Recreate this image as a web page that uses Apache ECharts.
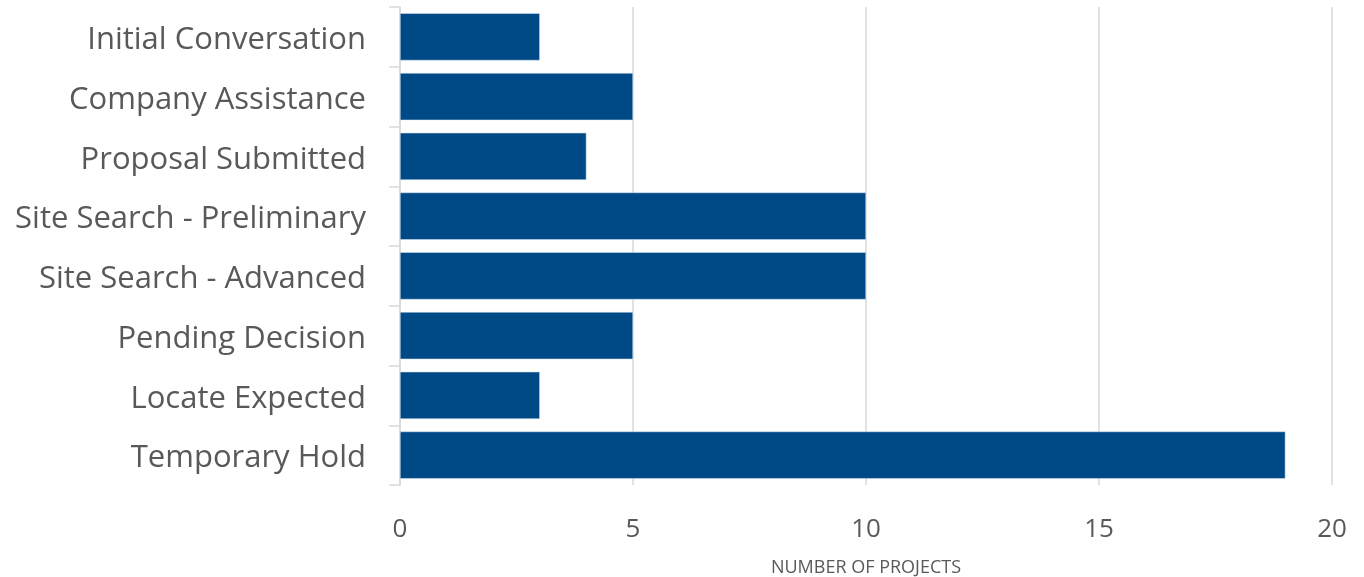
<!DOCTYPE html>
<html><head><meta charset="utf-8">
<script src="https://cdn.jsdelivr.net/npm/echarts@6/dist/echarts.min.js"></script>
<style>html,body{margin:0;padding:0;background:#fff}#c{width:1364px;height:577px}</style>
</head><body><div id="c"></div>
<script>
const categories = ["Initial Conversation","Company Assistance","Proposal Submitted","Site Search - Preliminary","Site Search - Advanced","Pending Decision","Locate Expected","Temporary Hold"];
const projects = [3,5,4,10,10,5,3,19];
const xTicks = [0,5,10,15,20];
const xAxisName = "NUMBER OF PROJECTS";

const chart = echarts.init(document.getElementById('c'));
chart.setOption({
  animation:false,
  grid:{left:400,right:32,top:7,bottom:92,containLabel:false,outerBoundsMode:'none'},
  xAxis:{type:'value',min:xTicks[0],max:xTicks[xTicks.length-1],interval:5,
    name:xAxisName,nameLocation:'middle',nameGap:74,
    nameTextStyle:{fontFamily:'Open Sans',fontSize:18,color:'#595959'},
    axisLine:{show:false},axisTick:{show:false},
    axisLabel:{fontFamily:'Open Sans',fontSize:26,color:'#595959',margin:32},
    splitLine:{lineStyle:{color:'#d9d9d9',width:1.5}}},
  yAxis:{type:'category',data:categories,inverse:true,
    axisLine:{show:true,lineStyle:{color:'#d9d9d9',width:1.5}},
    axisTick:{show:true,length:11,lineStyle:{color:'#d9d9d9',width:1.5}},
    axisLabel:{margin:34,formatter:'{a|{value}}',
      rich:{a:{fontFamily:'Open Sans',fontSize:31,color:'#595959',padding:[7,0,0,0]}}}},
  series:[{type:'bar',data:projects,barCategoryGap:'21%',
    itemStyle:{color:'#004987',borderColor:'#dbe6f1',borderWidth:0.5}}]
});
</script></body></html>
